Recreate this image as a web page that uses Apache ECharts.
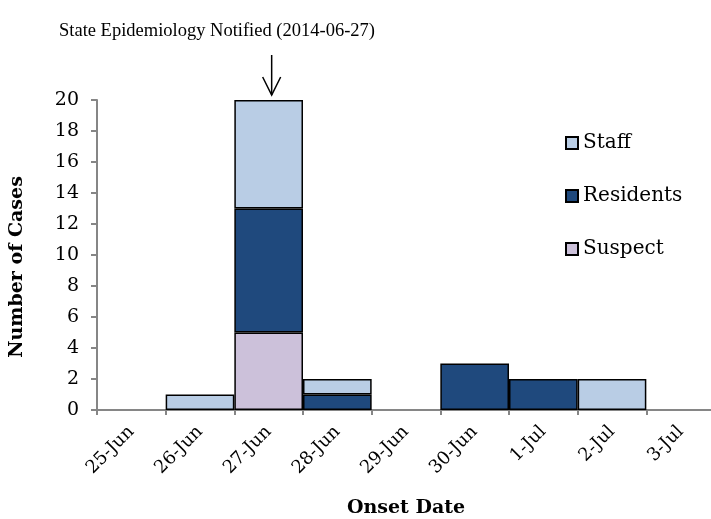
<!DOCTYPE html>
<html>
<head>
<meta charset="utf-8">
<script src="https://cdn.jsdelivr.net/npm/echarts@6/dist/echarts.min.js"></script>
<style>
  html, body { margin: 0; padding: 0; background: #fff; }
  #main { width: 711px; height: 519px; }
</style>
</head>
<body>
<div id="main"></div>
<script>
// onset dates and case counts per group
var dates = ['25-Jun', '26-Jun', '27-Jun', '28-Jun', '29-Jun', '30-Jun', '1-Jul', '2-Jul', '3-Jul'];
var suspect = [0, 0, 5, 0, 0, 0, 0, 0, 0];
var residents = [0, 0, 8, 1, 0, 3, 2, 0, 0];
var staff = [0, 1, 7, 1, 0, 0, 0, 2, 0];
var yTicks = [0, 2, 4, 6, 8, 10, 12, 14, 16, 18, 20];
var notifiedDate = '27-Jun';

var font = 'DejaVu Serif';

// empty days draw nothing
function clean(arr) {
  return arr.map(function (v) { return v === 0 ? '-' : v; });
}

function bar(name, data, color) {
  return {
    name: name,
    type: 'bar',
    stack: 'cases',
    barCategoryGap: 0,
    data: clean(data),
    itemStyle: { color: color, borderColor: '#000', borderWidth: 1.5 }
  };
}

var myChart = echarts.init(document.getElementById('main'));
var option = {
  animation: false,
  title: {
    text: 'State Epidemiology Notified (2014-06-27)',
    left: 54,
    top: 17,
    textStyle: { fontFamily: 'Liberation Serif', fontSize: 18.5, fontWeight: 'normal', color: '#000' }
  },
  legend: {
    data: ['Staff', 'Residents', 'Suspect'],
    orient: 'vertical',
    left: 560,
    top: 128,
    itemWidth: 12,
    itemHeight: 12,
    itemGap: 33,
    icon: 'rect',
    textStyle: { fontFamily: font, fontSize: 20, color: '#000' }
  },
  grid: { left: 97, top: 100, width: 618, height: 310, outerBoundsMode: 'none' },
  xAxis: {
    type: 'category',
    data: dates,
    name: 'Onset Date',
    nameLocation: 'middle',
    nameGap: 89,
    nameTextStyle: { fontFamily: font, fontSize: 19, fontWeight: 'bold', color: '#000' },
    axisLine: { lineStyle: { color: '#868686', width: 2 } },
    axisTick: { show: true, length: 5, lineStyle: { color: '#868686', width: 2 } },
    axisLabel: { interval: 0, rotate: 45, margin: 19, fontFamily: font, fontSize: 18, color: '#000' }
  },
  yAxis: {
    type: 'value',
    min: yTicks[0],
    max: yTicks[yTicks.length - 1],
    interval: yTicks[1] - yTicks[0],
    name: 'Number of Cases',
    nameLocation: 'middle',
    nameGap: 70,
    nameTextStyle: { fontFamily: font, fontSize: 19, fontWeight: 'bold', color: '#000', padding: [0, 24, 0, 0] },
    splitLine: { show: false },
    axisLine: { show: true, lineStyle: { color: '#868686', width: 2 } },
    axisTick: { show: true, length: 6, lineStyle: { color: '#868686', width: 2 } },
    axisLabel: { margin: 18, fontFamily: font, fontSize: 19, color: '#000' }
  },
  series: [
    bar('Suspect', suspect, '#ccc1da'),
    bar('Residents', residents, '#1f497d'),
    bar('Staff', staff, '#b9cde5')
  ]
};
myChart.setOption(option);

// arrow pointing at the notification day
var i = dates.indexOf(notifiedDate);
var total = staff[i] + residents[i] + suspect[i];
var p = myChart.convertToPixel({ gridIndex: 0 }, [notifiedDate, total]);
var tipY = p[1] - 5;
var ax = p[0] + 3;
myChart.setOption({
  graphic: [
    { type: 'line', shape: { x1: ax, y1: tipY - 40, x2: ax, y2: tipY }, style: { stroke: '#000', lineWidth: 1.5 } },
    { type: 'polyline', shape: { points: [[ax - 9, tipY - 18], [ax, tipY], [ax + 9, tipY - 18]] }, style: { stroke: '#000', lineWidth: 1.5, fill: null } }
  ]
});
</script>
</body>
</html>
